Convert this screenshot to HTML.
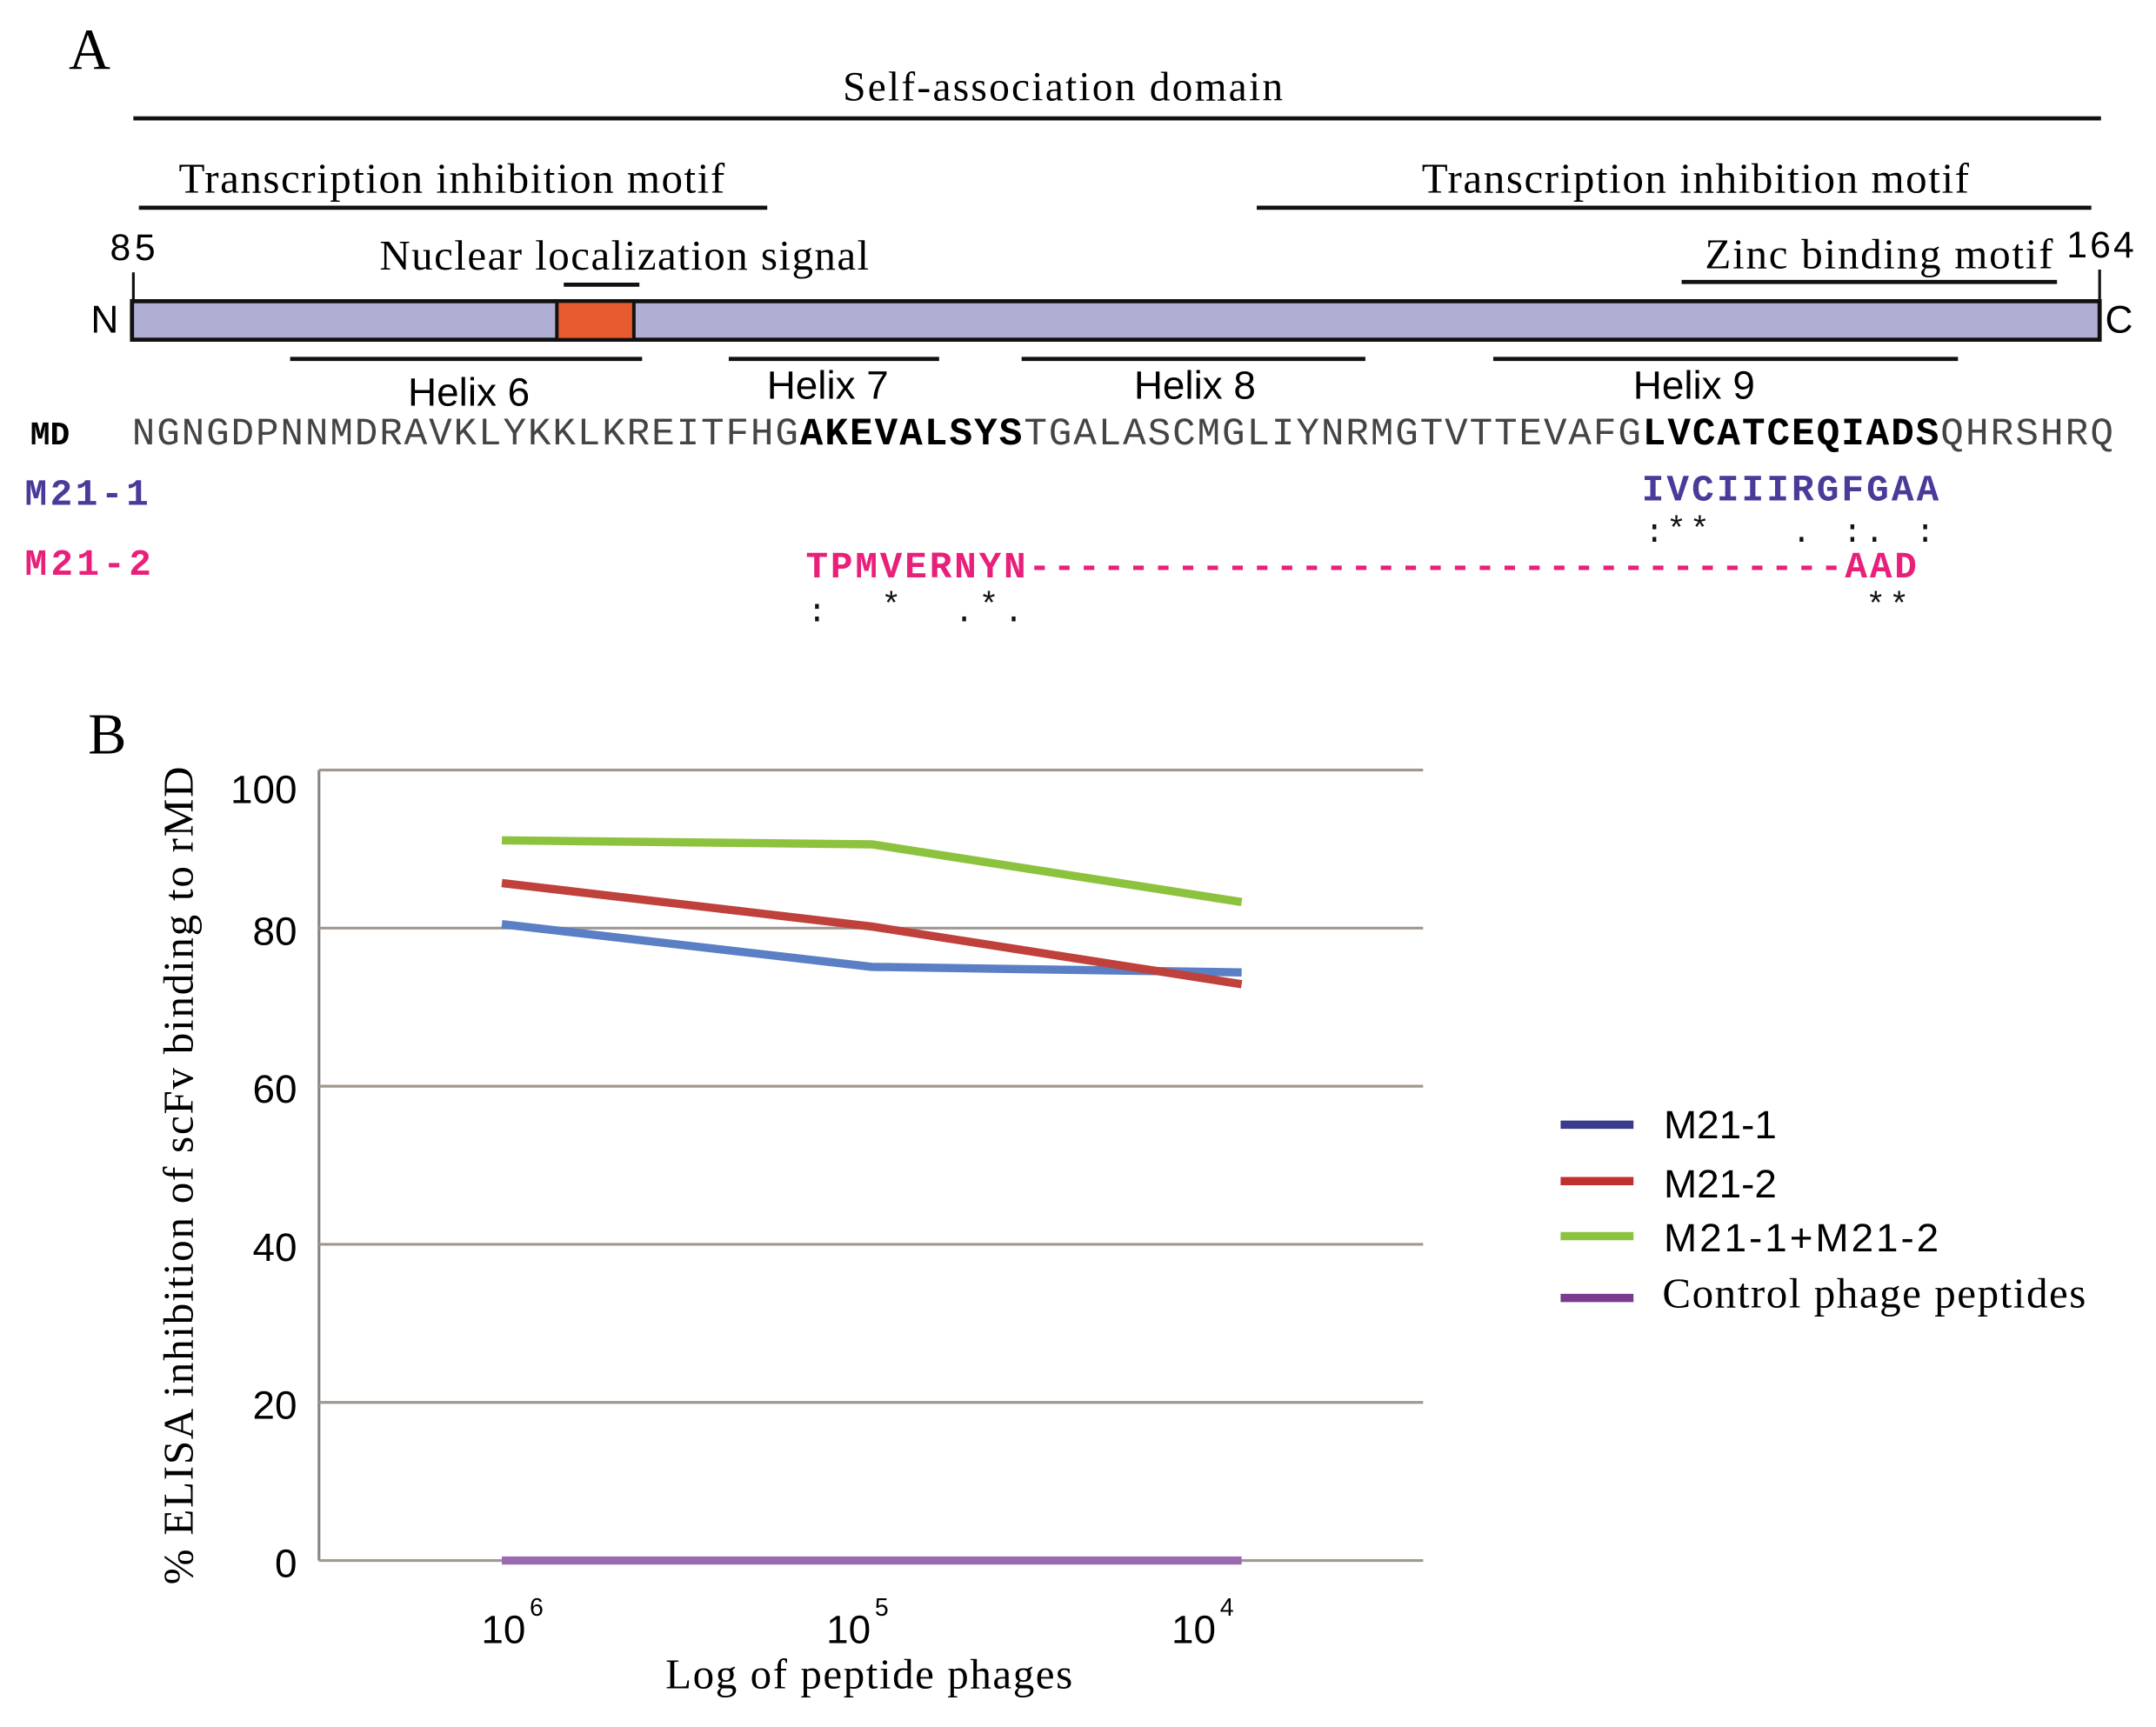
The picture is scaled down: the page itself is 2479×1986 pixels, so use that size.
<!DOCTYPE html>
<html><head><meta charset="utf-8">
<style>
html,body{margin:0;padding:0;background:#fff;}
svg{display:block;}
.serif{font-family:"Liberation Serif",serif;}
.sans{font-family:"Liberation Sans Narrow","Liberation Sans",sans-serif;}
.mono{font-family:"Liberation Mono",monospace;}
</style></head>
<body>
<svg id="fig" width="2479" height="1986" viewBox="0 0 1568 1256" xmlns="http://www.w3.org/2000/svg">
<g>
<text x="50" y="50" class="serif" font-size="42">A</text>
<text x="773" y="73" class="serif" font-size="30" text-anchor="middle" textLength="320">Self-association domain</text>
<line x1="97" y1="86" x2="1528" y2="86" stroke="#111" stroke-width="3"/>
<text x="130" y="140" class="serif" font-size="31" textLength="397">Transcription inhibition motif</text>
<line x1="101" y1="151" x2="558" y2="151" stroke="#111" stroke-width="3"/>
<text x="1034" y="140" class="serif" font-size="31" textLength="398">Transcription inhibition motif</text>
<line x1="914" y1="151" x2="1521" y2="151" stroke="#111" stroke-width="3"/>
<text x="80" y="189" class="sans" font-size="27" textLength="33">85</text>
<text x="1503" y="187" class="sans" font-size="27" textLength="49">164</text>
<text x="276" y="196" class="serif" font-size="31" textLength="356">Nuclear localization signal</text>
<line x1="410" y1="207" x2="465" y2="207" stroke="#111" stroke-width="3"/>
<text x="1240" y="195" class="serif" font-size="31" textLength="253">Zinc binding motif</text>
<line x1="1223" y1="205" x2="1496" y2="205" stroke="#111" stroke-width="3"/>
<line x1="97" y1="198" x2="97" y2="220" stroke="#111" stroke-width="2"/>
<line x1="1527" y1="196" x2="1527" y2="220" stroke="#111" stroke-width="2"/>
<rect x="96" y="219" width="1431" height="28" fill="#b1aed3" stroke="#111" stroke-width="3"/>
<rect x="405" y="219" width="56" height="28" fill="#e85a30" stroke="#111" stroke-width="2.5"/>
<text x="66" y="242" class="sans" font-size="28">N</text>
<text x="1531" y="242" class="sans" font-size="28">C</text>
<line x1="211" y1="261" x2="467" y2="261" stroke="#111" stroke-width="3"/>
<line x1="530" y1="261" x2="683" y2="261" stroke="#111" stroke-width="3"/>
<line x1="743" y1="261" x2="993" y2="261" stroke="#111" stroke-width="3"/>
<line x1="1086" y1="261" x2="1424" y2="261" stroke="#111" stroke-width="3"/>
<text x="341" y="295" class="sans" font-size="29" text-anchor="middle">Helix 6</text>
<text x="602" y="290" class="sans" font-size="29" text-anchor="middle">Helix 7</text>
<text x="869" y="290" class="sans" font-size="29" text-anchor="middle">Helix 8</text>
<text x="1232" y="290" class="sans" font-size="29" text-anchor="middle">Helix 9</text>

<text x="22" y="323" class="mono" font-size="24" font-weight="bold">MD</text>
<text x="96" y="323" class="mono" font-size="28" fill="#444"><tspan textLength="484.6">NGNGDPNNMDRAVKLYKKLKREITFHG</tspan><tspan font-weight="bold" fill="#000" textLength="161.6">AKEVALSYS</tspan><tspan textLength="448.8">TGALASCMGLIYNRMGTVTTEVAFG</tspan><tspan font-weight="bold" fill="#000" textLength="215.4">LVCATCEQIADS</tspan><tspan textLength="125.6">QHRSHRQ</tspan></text>

<text x="18" y="367" class="mono" font-size="27" font-weight="bold" fill="#4b3a9a" textLength="90">M21-1</text>
<text x="1194" y="364" class="mono" font-size="27" font-weight="bold" fill="#4b3a9a" textLength="216">IVCIIIRGFGAA</text>
<g class="mono" font-size="24" fill="#111">
<text x="1196" y="394">:</text><text x="1212" y="392">*</text><text x="1229" y="392">*</text>
<text x="1303" y="394">.</text><text x="1340" y="394">:</text><text x="1356" y="394">.</text><text x="1393" y="394">:</text>
</g>
<text x="18" y="418" class="mono" font-size="27" font-weight="bold" fill="#e8207a" textLength="92">M21-2</text>
<text x="586" y="420" class="mono" font-size="27" font-weight="bold" fill="#e8207a" textLength="808">TPMVERNYN---------------------------------AAD</text>
<g class="mono" font-size="24" fill="#111">
<text x="587" y="452">:</text><text x="641" y="447">*</text><text x="694" y="452">.</text><text x="712" y="447">*</text><text x="730" y="452">.</text>
<text x="1357" y="447">*</text><text x="1374" y="447">*</text>
</g>
</g>

<g id="chart">
<text x="64" y="548" class="serif" font-size="42">B</text>
<text transform="translate(140,855) rotate(-90)" class="serif" font-size="31" text-anchor="middle" textLength="595">% ELISA inhibition of scFv binding to rMD</text>
<text x="632" y="1228" class="serif" font-size="31" text-anchor="middle" textLength="296">Log of peptide phages</text>
<line x1="232" y1="560" x2="232" y2="1135" stroke="#8a8580" stroke-width="2"/>
<g id="grid"></g><g id="ylabels"></g><g id="xlabels"></g><g id="series"></g>
<g>
<line x1="1135" y1="818" x2="1188" y2="818" stroke="#3a3a8c" stroke-width="6"/>
<text x="1210" y="828" class="sans" font-size="29">M21-1</text>
<line x1="1135" y1="859" x2="1188" y2="859" stroke="#c0302c" stroke-width="6"/>
<text x="1210" y="871" class="sans" font-size="29">M21-2</text>
<line x1="1135" y1="899" x2="1188" y2="899" stroke="#8dc23f" stroke-width="6"/>
<text x="1210" y="910" class="sans" font-size="29" textLength="200">M21-1+M21-2</text>
<line x1="1135" y1="944" x2="1188" y2="944" stroke="#7a3a90" stroke-width="6"/>
<text x="1209" y="951" class="serif" font-size="31" textLength="308">Control phage peptides</text>
</g>
</g>
</svg>
<script>
const categories = ["6", "5", "4"];
const yTicks = [0, 20, 40, 60, 80, 100];
const m21_1 = [80.5, 75.1, 74.4];
const m21_2 = [85.7, 80.2, 72.9];
const combined = [91.1, 90.6, 83.3];
const control = [0, 0, 0];
const seriesNames = ["m21-1", "m21-2", "m21-1-plus-m21-2", "control-phage-peptides"];

const NS = "http://www.w3.org/2000/svg";
const yScale = v => 1135 - v * 5.75;
const xScale = i => 365 + i * 269;
const xLabelScale = i => 350 + i * 251;
function mk(tag, attrs, parent){const e=document.createElementNS(NS,tag);for(const k in attrs)e.setAttribute(k,attrs[k]);parent.appendChild(e);return e;}

const grid=document.getElementById('grid'), yl=document.getElementById('ylabels'), xl=document.getElementById('xlabels'), sg=document.getElementById('series');
yTicks.forEach(t=>{
  const g=mk('line',{x1:232,x2:1035,y1:yScale(t),y2:yScale(t),stroke:'#a09890','stroke-width':2},grid);
  
  
  const tx=mk('text',{x:216,y:yScale(t)+(t===100?24:12),'text-anchor':'end','font-size':29,'class':'sans'},yl);
  tx.textContent=t;
  
  
});
categories.forEach((c,i)=>{
  const tx=mk('text',{x:xLabelScale(i),y:1195,'font-size':29,'class':'sans'},xl);
  tx.textContent='10';
  const sp=mk('tspan',{dx:3,dy:-20,'font-size':18},tx);
  sp.textContent=c;
  
  
});
const allSeries=[m21_1,m21_2,combined,control];
const colors=['#5b7fc4','#c0403c','#8dc23f','#9a6bb0'];
allSeries.forEach((s,k)=>{
  const pts=s.map((v,i)=>xScale(i)+','+yScale(v)).join(' ');
  const p=mk('polyline',{points:pts,fill:'none',stroke:colors[k],'stroke-width':6,'stroke-linejoin':'round'},sg);
  
  
});
</script>
</body></html>
